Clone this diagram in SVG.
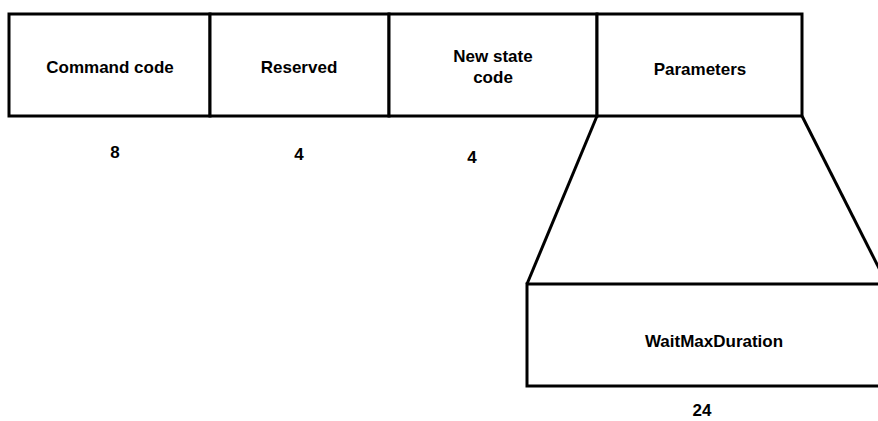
<svg xmlns="http://www.w3.org/2000/svg" width="878" height="421" viewBox="0 0 878 421">
<style>
.box{fill:#fff;stroke:#000;stroke-width:3}
.ln{stroke:#000;stroke-width:3;fill:none}
.t{font-family:"Liberation Sans",Arial,sans-serif;font-weight:bold;font-size:17px;fill:#000;text-anchor:middle}
</style>
<rect width="878" height="421" fill="#fff"/>
<g id="connectors">
<line class="ln" x1="597" y1="116" x2="527" y2="284"/>
<line class="ln" x1="802" y1="116" x2="887" y2="284"/>
</g>
<g id="command-code">
<rect class="box" x="9" y="14" width="201" height="102"/>
<text class="t" x="110" y="73">Command code</text>
<text class="t" x="115" y="158">8</text>
</g>
<g id="reserved">
<rect class="box" x="210" y="14" width="179" height="102"/>
<text class="t" x="299" y="73">Reserved</text>
<text class="t" x="299" y="160">4</text>
</g>
<g id="new-state-code">
<rect class="box" x="389" y="14" width="208" height="102"/>
<text class="t" x="493" y="62">New state</text>
<text class="t" x="493" y="83">code</text>
<text class="t" x="472" y="163">4</text>
</g>
<g id="parameters">
<rect class="box" x="597" y="14" width="205" height="102"/>
<text class="t" x="700" y="75">Parameters</text>
</g>
<g id="wait-max-duration">
<rect class="box" x="527" y="284" width="400" height="102"/>
<text class="t" x="714" y="347">WaitMaxDuration</text>
<text class="t" x="702" y="416">24</text>
</g>
</svg>
